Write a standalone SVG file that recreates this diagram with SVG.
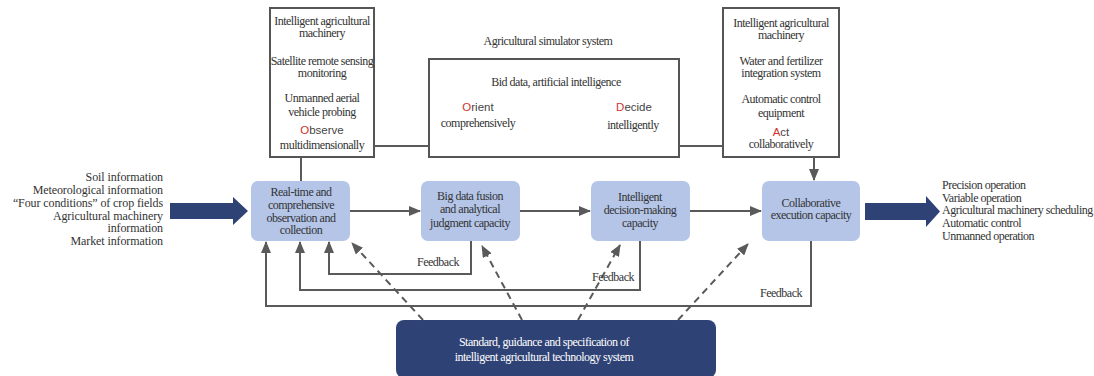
<svg xmlns="http://www.w3.org/2000/svg" width="1094" height="376" viewBox="0 0 1094 376">
<style>
.t{font-family:"Liberation Serif","Times New Roman",serif;font-size:12px;fill:#333;letter-spacing:-0.5px}
.c{text-anchor:middle}
.s{font-family:"Liberation Sans",Arial,sans-serif;font-size:11.5px;fill:#444;text-anchor:middle}
.r{fill:#d0312d}
.frame{fill:#fff;stroke:#555;stroke-width:2}
.blue{fill:#b4c5e8;stroke:none}
.navy{fill:#2f4275}
.ln{fill:none;stroke:#5a5a5a;stroke-width:2}
.dash{fill:none;stroke:#5a5a5a;stroke-width:2;stroke-dasharray:7,5}
.w{fill:#fff}
</style>
<defs>
<marker id="ah" markerUnits="userSpaceOnUse" markerWidth="12" markerHeight="10" refX="11" refY="5" orient="auto">
<path d="M0,0 L12,5 L0,10 z" fill="#5a5a5a"/>
</marker>
</defs>

<g id="inputs">
<polygon class="navy" points="170,203 233,203 233,197 248,211 233,225 233,219 170,219"/>
<text class="t" text-anchor="end" x="163" y="181" style="letter-spacing:-0.1px">Soil information</text>
<text class="t" text-anchor="end" x="163" y="194" style="letter-spacing:-0.1px">Meteorological information</text>
<text class="t" text-anchor="end" x="163" y="207" style="letter-spacing:-0.1px">“Four conditions” of crop fields</text>
<text class="t" text-anchor="end" x="163" y="220" style="letter-spacing:-0.1px">Agricultural machinery</text>
<text class="t" text-anchor="end" x="163" y="232" style="letter-spacing:-0.1px">information</text>
<text class="t" text-anchor="end" x="163" y="245" style="letter-spacing:-0.1px">Market information</text>
</g>

<g id="outputs">
<polygon class="navy" points="865,203 926,203 926,196 940,211.5 926,227 926,220 865,220"/>
<text class="t" x="942" y="189">Precision operation</text>
<text class="t" x="942" y="202">Variable operation</text>
<text class="t" x="942" y="214">Agricultural machinery scheduling</text>
<text class="t" x="942" y="227">Automatic control</text>
<text class="t" x="942" y="240">Unmanned operation</text>
</g>

<g id="observe-box">
<rect class="frame" x="270" y="8" width="104" height="149"/>
<text class="t c" x="322" y="25">Intelligent agricultural</text>
<text class="t c" x="322" y="37">machinery</text>
<text class="t c" x="322" y="65">Satellite remote sensing</text>
<text class="t c" x="322" y="77">monitoring</text>
<text class="t c" x="322" y="102">Unmanned aerial</text>
<text class="t c" x="322" y="116">vehicle probing</text>
<text class="s" x="322" y="134"><tspan class="r">O</tspan>bserve</text>
<text class="t c" x="322" y="149">multidimensionally</text>
</g>

<g id="simulator-label">
<text class="t c" x="548" y="45">Agricultural simulator system</text>
</g>

<g id="simulator-box">
<rect class="frame" x="429" y="59" width="250" height="98"/>
<text class="t c" x="556" y="86">Bid data, artificial intelligence</text>
<text class="s" x="478" y="111"><tspan class="r">O</tspan>rient</text>
<text class="t c" x="478" y="127">comprehensively</text>
<text class="s" x="634" y="111"><tspan class="r">D</tspan>ecide</text>
<text class="t c" x="633" y="129">intelligently</text>
</g>

<g id="act-box">
<rect class="frame" x="723" y="8" width="116" height="149"/>
<text class="t c" x="781" y="27">Intelligent agricultural</text>
<text class="t c" x="781" y="39">machinery</text>
<text class="t c" x="781" y="65">Water and fertilizer</text>
<text class="t c" x="781" y="77">integration system</text>
<text class="t c" x="781" y="103">Automatic control</text>
<text class="t c" x="781" y="117">equipment</text>
<text class="s" x="781" y="136"><tspan class="r">A</tspan>ct</text>
<text class="t c" x="781" y="148">collaboratively</text>
</g>

<g id="observation">
<rect class="blue" x="251" y="181" width="99" height="60" rx="7"/>
<text class="t c" x="301" y="196">Real-time and</text>
<text class="t c" x="301" y="209">comprehensive</text>
<text class="t c" x="301" y="222">observation and</text>
<text class="t c" x="301" y="234">collection</text>
</g>

<g id="fusion">
<rect class="blue" x="421" y="181" width="99" height="60" rx="7"/>
<text class="t c" x="470" y="200">Big data fusion</text>
<text class="t c" x="470" y="213">and analytical</text>
<text class="t c" x="470" y="227">judgment capacity</text>
</g>

<g id="decision">
<rect class="blue" x="591" y="181" width="99" height="60" rx="7"/>
<text class="t c" x="640" y="201">Intelligent</text>
<text class="t c" x="640" y="214">decision-making</text>
<text class="t c" x="640" y="227">capacity</text>
</g>

<g id="execution">
<rect class="blue" x="762" y="181" width="98" height="60" rx="7"/>
<text class="t c" x="811" y="207">Collaborative</text>
<text class="t c" x="811" y="219">execution capacity</text>
</g>

<g id="standard">
<rect class="navy" x="396" y="320" width="320" height="58" rx="8"/>
<text class="t c w" x="544" y="346">Standard, guidance and specification of</text>
<text class="t c w" x="544" y="361">intelligent agricultural technology system</text>
</g>

<g id="connectors">
<path class="ln" d="M374,146 H429"/>
<path class="ln" d="M679,146 H723"/>
<path class="ln" d="M301,157 V181"/>
<path class="ln" d="M814,157 V180" marker-end="url(#ah)"/>
<path class="ln" d="M350,211 H420" marker-end="url(#ah)"/>
<path class="ln" d="M520,211 H590" marker-end="url(#ah)"/>
<path class="ln" d="M690,211 H761" marker-end="url(#ah)"/>
<path class="ln" d="M471,241 V274 H329 V242" marker-end="url(#ah)"/>
<path class="ln" d="M640,241 V290 H300 V242" marker-end="url(#ah)"/>
<path class="ln" d="M811,241 V306 H266 V242" marker-end="url(#ah)"/>
<path class="dash" d="M423,320 L352,243" marker-end="url(#ah)"/>
<path class="dash" d="M522,320 L482,246" marker-end="url(#ah)"/>
<path class="dash" d="M578,320 L620,245" marker-end="url(#ah)"/>
<path class="dash" d="M678,320 L748,244" marker-end="url(#ah)"/>
<text class="t" x="417" y="266">Feedback</text>
<text class="t" x="592" y="281">Feedback</text>
<text class="t" x="760" y="297">Feedback</text>
</g>
</svg>
